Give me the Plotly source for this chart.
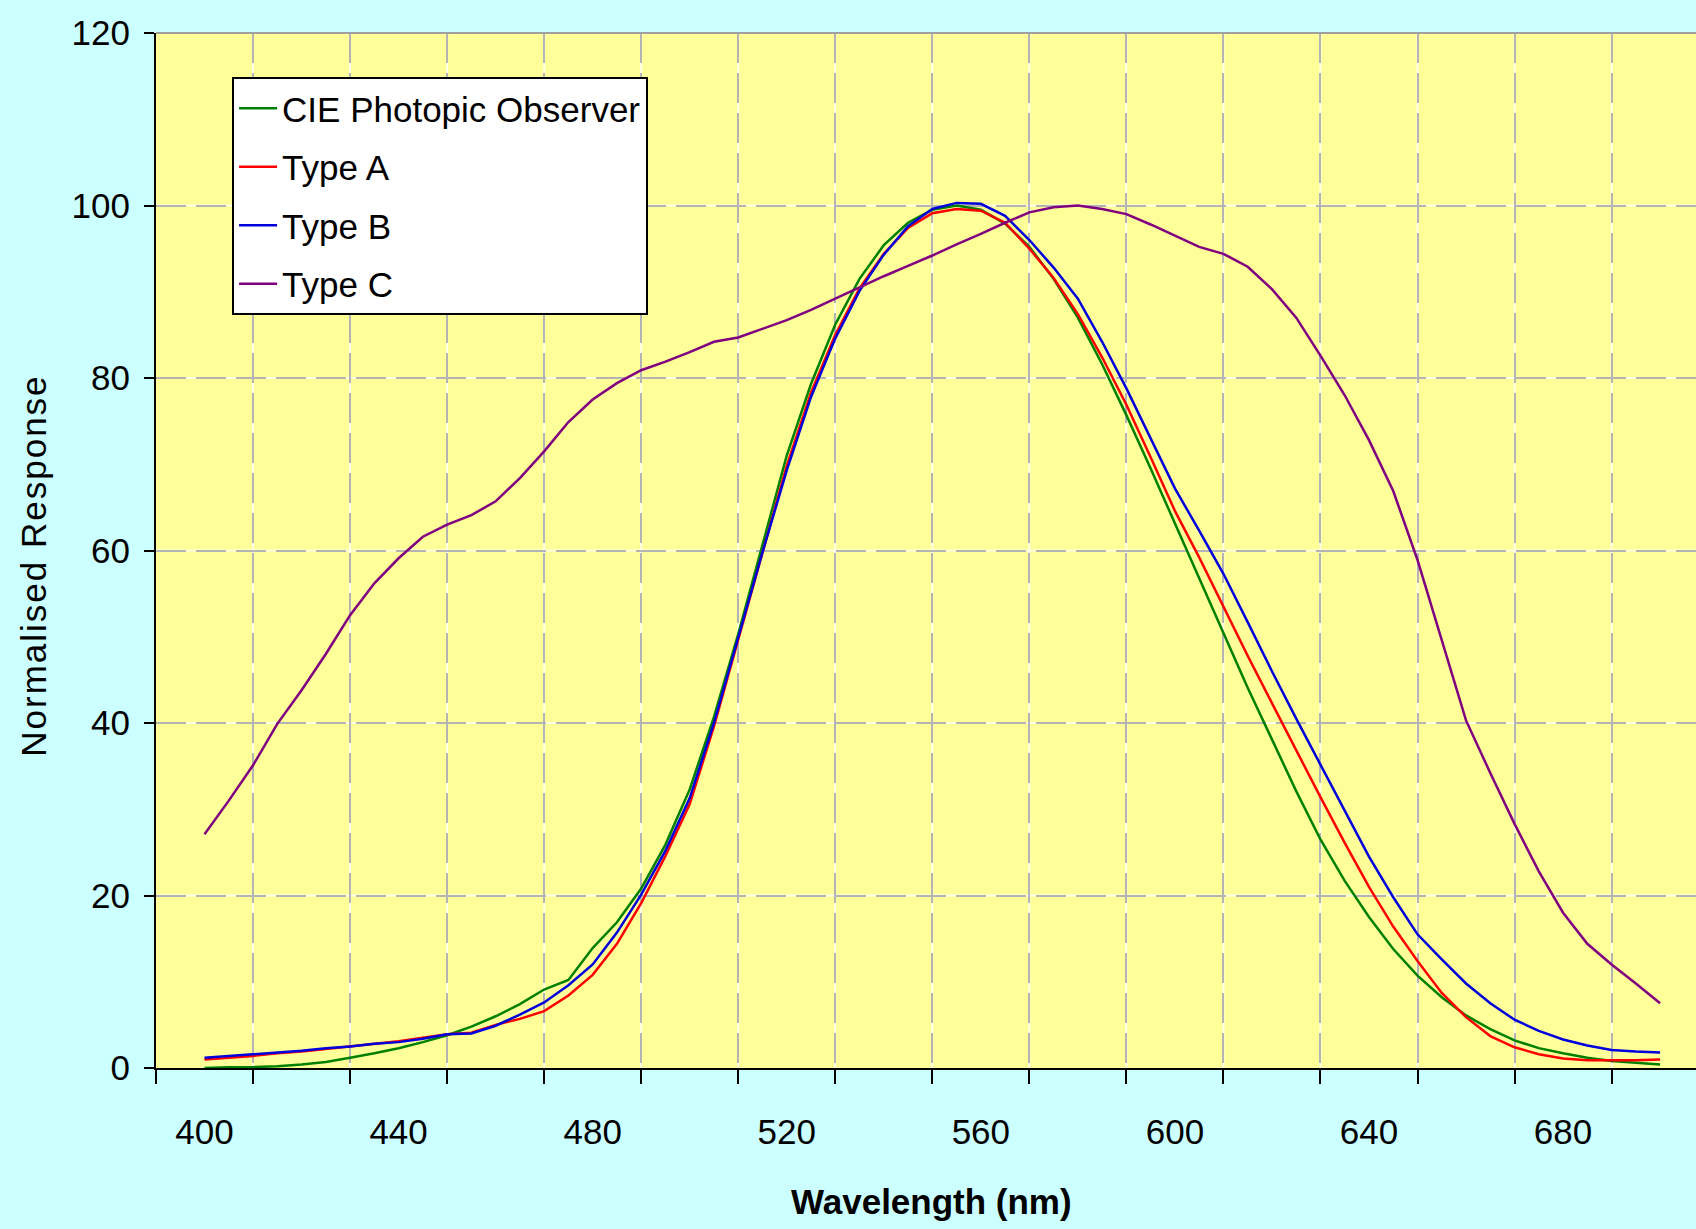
import plotly.graph_objects as go

# Wavelength samples (nm)
wavelength = [400, 405, 410, 415, 420, 425, 430, 435, 440, 445,
              450, 455, 460, 465, 470, 475, 480, 485, 490, 495,
              500, 505, 510, 515, 520, 525, 530, 535, 540, 545,
              550, 555, 560, 565, 570, 575, 580, 585, 590, 595,
              600, 605, 610, 615, 620, 625, 630, 635, 640, 645,
              650, 655, 660, 665, 670, 675, 680, 685, 690, 695, 700]

cie_photopic = [0.0, 0.1, 0.1, 0.2, 0.4, 0.7, 1.2, 1.7, 2.3, 3.0,
                3.8, 4.8, 6.0, 7.4, 9.1, 10.2, 13.9, 16.9, 20.8, 25.9,
                32.3, 40.7, 50.3, 60.8, 71.0, 79.3, 86.2, 91.5, 95.4, 98.0,
                99.5, 100.0, 99.5, 97.9, 95.2, 91.5, 87.0, 81.6, 75.7, 69.5,
                63.1, 56.7, 50.3, 44.1, 38.1, 32.1, 26.5, 21.7, 17.5, 13.8,
                10.7, 8.2, 6.1, 4.5, 3.2, 2.3, 1.7, 1.2, 0.8, 0.6, 0.4]

type_a = [1.0, 1.2, 1.4, 1.7, 1.9, 2.2, 2.5, 2.8, 3.1, 3.5,
          3.9, 4.1, 5.0, 5.7, 6.6, 8.4, 10.8, 14.4, 19.1, 24.6,
          30.6, 39.6, 49.6, 59.8, 69.8, 78.3, 85.0, 90.4, 94.4, 97.4,
          99.1, 99.6, 99.4, 98.0, 95.0, 91.6, 87.4, 82.4, 76.9, 70.8,
          64.6, 59.2, 53.4, 47.8, 42.3, 36.8, 31.4, 26.1, 21.0, 16.4,
          12.4, 8.7, 5.9, 3.7, 2.4, 1.6, 1.1, 0.9, 0.9, 0.9, 1.0]

type_b = [1.2, 1.4, 1.6, 1.8, 2.0, 2.3, 2.5, 2.8, 3.0, 3.4,
          3.9, 4.0, 4.9, 6.2, 7.6, 9.6, 12.0, 15.7, 20.1, 25.2,
          31.3, 40.0, 49.9, 59.8, 69.3, 77.8, 84.6, 90.1, 94.3, 97.6,
          99.6, 100.3, 100.2, 98.8, 96.0, 92.8, 89.2, 84.2, 78.8, 73.0,
          67.2, 62.3, 57.3, 51.7, 46.0, 40.5, 35.2, 29.8, 24.5, 19.8,
          15.5, 12.6, 9.8, 7.5, 5.6, 4.3, 3.3, 2.6, 2.1, 1.9, 1.8]

type_c = [27.1, 31.0, 35.1, 39.9, 43.8, 48.0, 52.5, 56.2, 59.1, 61.6,
          63.0, 64.1, 65.7, 68.4, 71.5, 74.9, 77.5, 79.4, 80.9, 81.9,
          83.0, 84.2, 84.7, 85.7, 86.7, 87.9, 89.2, 90.5, 91.8, 93.0,
          94.2, 95.5, 96.7, 98.0, 99.2, 99.8, 100.0, 99.6, 99.0, 97.8,
          96.5, 95.2, 94.4, 92.9, 90.3, 87.0, 82.6, 78.0, 72.8, 66.9,
          58.9, 49.5, 40.3, 34.2, 28.3, 22.8, 18.0, 14.4, 12.0, 9.8, 7.5]

series_names = ["CIE Photopic Observer", "Type A", "Type B", "Type C"]
series_colors = ["#008000", "#FF0000", "#0000DD", "#800080"]

# Axis ticks
x_labels = [400, 440, 480, 520, 560, 600, 640, 680]
x_grid = [410, 430, 450, 470, 490, 510, 530, 550, 570, 590, 610, 630, 650, 670, 690]
x_ticks = [390] + x_grid
y_ticks = [0, 20, 40, 60, 80, 100, 120]
x_range = [390, 707.4]
y_range = [0, 120]

FONT = "Liberation Sans, Arial, sans-serif"
GRID = "#B4B4B4"

fig = go.Figure()
for name, ys, col in zip(series_names, [cie_photopic, type_a, type_b, type_c], series_colors):
    fig.add_trace(go.Scatter(
        x=wavelength, y=ys, name=name, mode="lines",
        line=dict(color=col, width=2.5),
        legendgroup=name,
    ))

# pale lines under the dashed grid
shapes = []
for gx in x_grid:
    shapes.append(dict(type="line", xref="x", yref="paper", x0=gx, x1=gx, y0=0, y1=1,
                       line=dict(color="rgba(255,255,240,0.9)", width=2), layer="below"))
for gy in y_ticks[1:-1]:
    shapes.append(dict(type="line", xref="paper", yref="y", x0=0, x1=1, y0=gy, y1=gy,
                       line=dict(color="rgba(255,255,240,0.9)", width=2), layer="below"))
# plot-area top border
shapes.append(dict(type="line", xref="paper", yref="paper", x0=0, x1=1, y0=1, y1=1,
                   line=dict(color="#A0A0A0", width=2), layer="above"))

fig.update_layout(
    width=1696, height=1229,
    margin=dict(l=156, r=0, t=33, b=160.5),
    paper_bgcolor="#CCFFFF",
    plot_bgcolor="#FFFF99",
    font=dict(family=FONT, size=35, color="black"),
    shapes=shapes,
    showlegend=True,
    legend=dict(
        x=0.0494, y=0.9575, xanchor="left", yanchor="top",
        bgcolor="white", bordercolor="black", borderwidth=2,
        font=dict(family=FONT, size=35, color="black"),
        tracegroupgap=10,
        itemwidth=38,
    ),
    xaxis=dict(
        range=x_range,
        tickmode="array", tickvals=x_labels, ticktext=[str(v) for v in x_labels],
        ticks="", showgrid=False, zeroline=False,
        showline=True, linecolor="black", linewidth=2,
        tickfont=dict(family=FONT, size=35, color="black"),
        ticklabelstandoff=32,
        minor=dict(
            tickmode="array", tickvals=x_ticks,
            ticks="outside", ticklen=14, tickwidth=2, tickcolor="black",
            showgrid=True, gridcolor=GRID, gridwidth=2, griddash="30px,10px",
        ),
    ),
    yaxis=dict(
        range=y_range,
        tickmode="array", tickvals=y_ticks,
        ticks="outside", ticklen=10, tickwidth=2, tickcolor="black",
        showgrid=True, gridcolor=GRID, gridwidth=2, griddash="30px,10px",
        zeroline=False,
        showline=True, linecolor="black", linewidth=2,
        tickfont=dict(family=FONT, size=35, color="black"),
        ticklabelstandoff=7,
    ),
    annotations=[
        dict(text='<span style="letter-spacing:2px">Normalised Response</span>',
             xref="paper", yref="paper",
             x=(34 - 156) / 1540, y=(1068.5 - 566) / 1035.5,
             xanchor="center", yanchor="middle", textangle=-90, showarrow=False,
             font=dict(family=FONT, size=35, color="black")),
        dict(text="Wavelength (nm)", xref="paper", yref="paper",
             x=(931 - 156) / 1540, y=(1068.5 - 1201.7) / 1035.5,
             xanchor="center", yanchor="middle", showarrow=False,
             font=dict(family=FONT, size=35, color="black", weight="bold")),
    ],
)

fig.write_html("out.html")
